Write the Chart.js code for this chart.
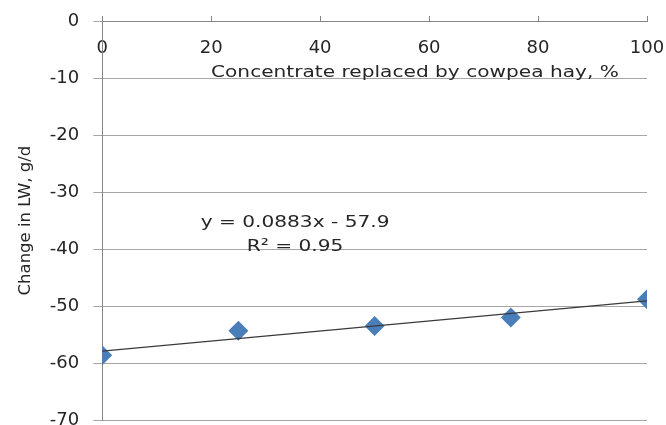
<!DOCTYPE html>
<html>
<head>
<meta charset="utf-8">
<script src="https://cdn.jsdelivr.net/npm/chart.js@4/dist/chart.umd.min.js"></script>
<style>
    html, body { margin: 0; padding: 0; background: #fff; overflow: hidden; width: 666px; height: 425px; }
    #wrap { position: relative; width: 666px; height: 445px; }
</style>
</head>
<body>
<div id="wrap"><canvas id="chart"></canvas></div>
<script>
// --- DATA ---
const replacement = [0, 25, 50, 75, 100];          // concentrate replaced, %
const lwChange = [-58.6, -54.3, -53.5, -52.0, -48.8]; // change in LW, g/d
const trendX = [0, 100];
const trendY = [-57.9, -49.07];
const noteTexts = ['Concentrate replaced by cowpea hay, %', 'y = 0.0883x - 57.9', 'R\u00b2 = 0.95'];
const noteX = [57.4, 35.4, 35.4];
const noteY = [-9.1, -35.4, -39.6];

const FONT = "'DejaVu Sans', sans-serif";
const TEXT = '#262626';

// free text labels placed in data coordinates
const notesPlugin = {
    id: 'notes',
    afterDraw(chart) {
        const { ctx, scales } = chart;
        ctx.save();
        ctx.font = '16.5px ' + FONT;
        ctx.fillStyle = TEXT;
        ctx.textAlign = 'center';
        ctx.textBaseline = 'middle';
        noteTexts.forEach((t, i) => {
            const px = scales.x.getPixelForValue(noteX[i]);
            const py = scales.y.getPixelForValue(noteY[i]);
            ctx.save();
            ctx.translate(px, py);
            ctx.scale(1.22, 1);
            ctx.fillText(t, 0, 0);
            ctx.restore();
        });
        ctx.restore();
    }
};

new Chart(document.getElementById('chart'), {
    type: 'scatter',
    data: {
        datasets: [
            {
                type: 'line',
                label: 'trend',
                data: trendX.map((x, i) => ({ x, y: trendY[i] })),
                borderColor: '#3a3a3a',
                borderWidth: 1.2,
                pointRadius: 0,
                fill: false
            },
            {
                label: 'LW',
                data: replacement.map((x, i) => ({ x, y: lwChange[i] })),
                pointStyle: 'rectRot',
                pointRadius: 10,
                backgroundColor: '#4a7ebb',
                borderColor: '#4a7ebb',
                borderWidth: 0
            }
        ]
    },
    options: {
        responsive: true,
        maintainAspectRatio: false,
        animation: false,
        layout: { padding: { left: 16, top: 16, right: 19, bottom: 0 } },
        plugins: {
            legend: { display: false },
            tooltip: { enabled: false }
        },
        scales: {
            x: {
                type: 'linear',
                position: 'top',
                min: 0, max: 100,
                ticks: { display: false, stepSize: 20 },
                grid: { drawOnChartArea: false, tickLength: 5, color: '#868686' },
                border: { color: '#868686' }
            },
            x2: {
                type: 'linear',
                axis: 'x',
                position: { y: 0 },
                min: 0, max: 100,
                ticks: { stepSize: 20, padding: 0, color: TEXT, font: { family: FONT, size: 18 } },
                grid: { display: false, drawTicks: true, tickLength: 17 },
                border: { display: false }
            },
            y: {
                min: -70, max: 0,
                afterFit: scale => { scale.paddingTop = 0; },
                ticks: { stepSize: 10, padding: 14, color: TEXT, font: { family: FONT, size: 18 } },
                grid: { color: '#a6a6a6', tickLength: 9 },
                border: { color: '#868686' },
                title: {
                    display: true,
                    text: 'Change in LW, g/d',
                    color: TEXT,
                    font: { family: FONT, size: 16.5 },
                    padding: { top: 0, bottom: 0 }
                }
            }
        }
    },
    plugins: [notesPlugin]
});
</script>
</body>
</html>
